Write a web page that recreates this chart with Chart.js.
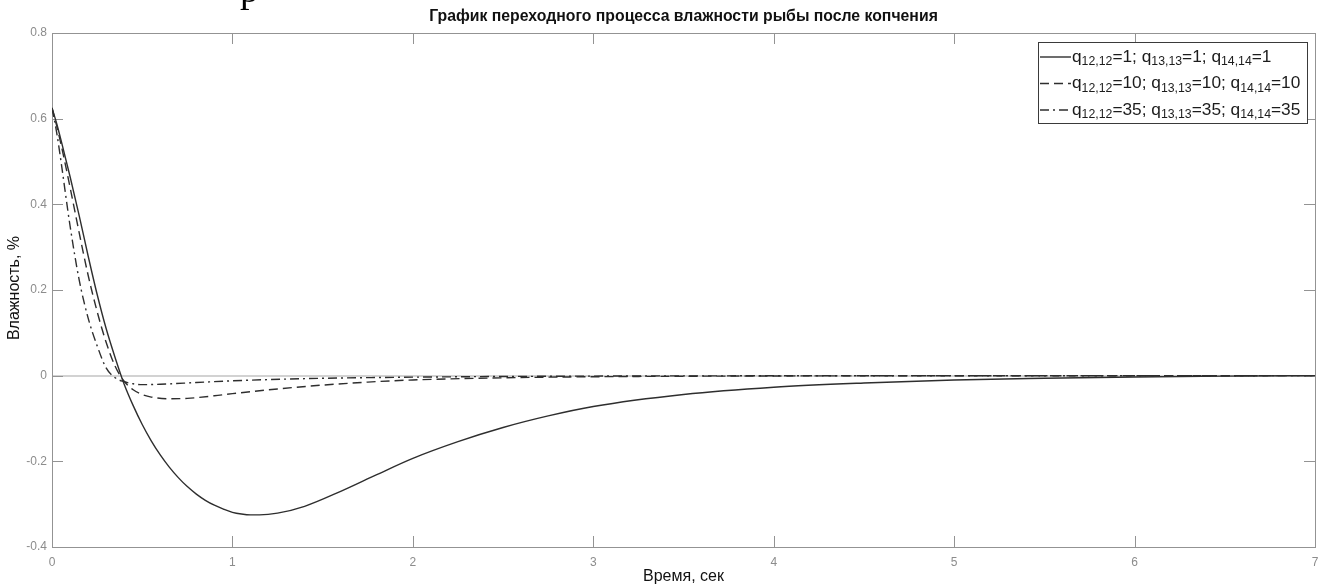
<!DOCTYPE html>
<html>
<head>
<meta charset="utf-8">
<script src="https://cdn.jsdelivr.net/npm/chart.js@4/dist/chart.umd.min.js"></script>
<style>
  html, body { margin: 0; padding: 0; background: #fff; overflow: hidden; }
  #wrap { width: 1330px; height: 586px; }
</style>
</head>
<body>
<div id="wrap"><canvas id="moistureChart" width="1330" height="586"></canvas></div>
<script>
// time, s
const timeQ1 = [0, 0.025, 0.05, 0.1, 0.15, 0.2, 0.25, 0.3, 0.35, 0.4, 0.45, 0.5, 0.55, 0.6, 0.65, 0.7, 0.75, 0.8, 0.85, 0.9, 0.95, 1.0, 1.05, 1.1, 1.15, 1.25, 1.4, 1.6, 1.8, 2.0, 2.25, 2.5, 2.75, 3.0, 3.5, 4.0, 4.5, 5.0, 5.5, 6.0, 6.5, 7.0];
const moistureQ1 = [0.625, 0.59, 0.55, 0.465, 0.375, 0.28, 0.19, 0.11, 0.042, -0.02, -0.07, -0.114, -0.152, -0.185, -0.2135, -0.238, -0.259, -0.2765, -0.291, -0.3025, -0.3115, -0.319, -0.323, -0.325, -0.325, -0.321, -0.305, -0.27, -0.231, -0.193, -0.154, -0.121, -0.094, -0.072, -0.044, -0.027, -0.017, -0.01, -0.006, -0.003, -0.001, 0];

const timeQ10 = [0, 0.025, 0.05, 0.1, 0.15, 0.2, 0.25, 0.3, 0.35, 0.4, 0.45, 0.5, 0.55, 0.65, 0.75, 0.9, 1.0, 1.25, 1.5, 1.75, 2.0, 2.5, 3.0, 4.0, 5.0, 7.0];
const moistureQ10 = [0.625, 0.585, 0.54, 0.44, 0.335, 0.235, 0.15, 0.078, 0.022, -0.013, -0.033, -0.044, -0.05, -0.054, -0.053, -0.047, -0.042, -0.031, -0.022, -0.015, -0.01, -0.005, -0.0025, -0.0007, -0.0002, 0];

const timeQ35 = [0, 0.025, 0.05, 0.1, 0.15, 0.2, 0.25, 0.3, 0.35, 0.4, 0.45, 0.5, 0.6, 0.8, 1.0, 1.4, 2.0, 3.0, 4.0, 7.0];
const moistureQ35 = [0.625, 0.57, 0.5, 0.35, 0.225, 0.135, 0.07, 0.018, -0.005, -0.014, -0.019, -0.021, -0.02, -0.016, -0.012, -0.007, -0.0035, -0.001, -0.0003, 0];

const xTickValues = [0, 1, 2, 3, 4, 5, 6, 7];
const xTickLabels = ['0', '1', '2', '3', '4', '5', '6', '7'];
const yTickValues = [-0.4, -0.2, 0, 0.2, 0.4, 0.6, 0.8];
const yTickLabels = ['-0.4', '-0.2', '0', '0.2', '0.4', '0.6', '0.8'];

// legend rows: [text, isSubscript]
const legendRows = [
    [['q', 0], ['12,12', 1], ['=1; q', 0], ['13,13', 1], ['=1; q', 0], ['14,14', 1], ['=1', 0]],
    [['q', 0], ['12,12', 1], ['=10; q', 0], ['13,13', 1], ['=10; q', 0], ['14,14', 1], ['=10', 0]],
    [['q', 0], ['12,12', 1], ['=35; q', 0], ['13,13', 1], ['=35; q', 0], ['14,14', 1], ['=35', 0]]
];
const lineDashes = [[], [9, 5], [9, 4, 2, 4]];

const SANS = '"Liberation Sans", Arial, sans-serif';
const FRAME = '#939393';
const INK = '#2e2e2e';

function toPoints(xs, ys) {
    return xs.map((x, i) => ({ x: x, y: ys[i] }));
}

function drawLegend(ctx) {
    const left = 1038, top = 42, w = 269, h = 81;
    const rowY = [57, 83.5, 110];
    ctx.save();
    ctx.fillStyle = '#fff';
    ctx.fillRect(left, top, w, h);
    ctx.strokeStyle = '#3a3a3a';
    ctx.lineWidth = 1;
    ctx.strokeRect(left + 0.5, top + 0.5, w, h);

    rowY.forEach((y, r) => {
        ctx.beginPath();
        ctx.setLineDash(lineDashes[r]);
        ctx.strokeStyle = INK;
        ctx.lineWidth = 1.4;
        ctx.moveTo(left + 2, y);
        ctx.lineTo(left + 33, y);
        ctx.stroke();
        ctx.setLineDash([]);

        let x = left + 34;
        ctx.fillStyle = '#1c1c1c';
        ctx.textBaseline = 'middle';
        ctx.textAlign = 'left';
        legendRows[r].forEach(([txt, sub]) => {
            ctx.font = sub ? '12.3px ' + SANS : '17.3px ' + SANS;
            ctx.fillText(txt, x, sub ? y + 5 : y);
            x += ctx.measureText(txt).width;
        });
    });
    ctx.restore();
}

const decor = {
    id: 'decor',
    beforeDatasetsDraw(chart) {
        const { ctx, chartArea: a, scales } = chart;
        ctx.save();
        ctx.strokeStyle = FRAME;
        ctx.lineWidth = 1;
        const tl = 11;
        ctx.beginPath();
        scales.x.ticks.forEach(t => {
            const px = Math.round(scales.x.getPixelForValue(t.value)) + 0.5;
            ctx.moveTo(px, a.bottom); ctx.lineTo(px, a.bottom - tl);
            ctx.moveTo(px, a.top); ctx.lineTo(px, a.top + tl);
        });
        scales.y.ticks.forEach(t => {
            const py = Math.round(scales.y.getPixelForValue(t.value)) + 0.5;
            ctx.moveTo(a.left, py); ctx.lineTo(a.left + tl, py);
            ctx.moveTo(a.right, py); ctx.lineTo(a.right - tl, py);
        });
        ctx.stroke();
        ctx.strokeRect(Math.round(a.left) + 0.5, Math.round(a.top) + 0.5,
            Math.round(a.right - a.left), Math.round(a.bottom - a.top));
        ctx.restore();
    },
    afterDraw(chart) {
        const { ctx, chartArea: a } = chart;
        drawLegend(ctx);

        ctx.save();
        ctx.fillStyle = '#111';
        ctx.textAlign = 'center';
        ctx.textBaseline = 'middle';
        ctx.font = 'bold 15.8px ' + SANS;
        ctx.fillText('График переходного процесса влажности рыбы после копчения', (a.left + a.right) / 2, 17);

        ctx.font = '16px ' + SANS;
        ctx.fillText('Время, сек', (a.left + a.right) / 2, 577);

        ctx.translate(15, (a.top + a.bottom) / 2 - 2);
        ctx.rotate(-Math.PI / 2);
        ctx.fillText('Влажность, %', 0, 0);
        ctx.restore();

        // tail of a text line above the figure
        ctx.save();
        ctx.fillStyle = '#000';
        ctx.font = '38px "Liberation Serif", serif';
        ctx.textBaseline = 'alphabetic';
        ctx.textAlign = 'left';
        ctx.fillText('р', 240, 2);
        ctx.restore();
    }
};

const series = [
    { data: toPoints(timeQ1, moistureQ1), dash: lineDashes[0] },
    { data: toPoints(timeQ10, moistureQ10), dash: lineDashes[1] },
    { data: toPoints(timeQ35, moistureQ35), dash: lineDashes[2] }
];

new Chart(document.getElementById('moistureChart'), {
    type: 'line',
    data: {
        datasets: series.map(s => ({
            data: s.data,
            borderColor: INK,
            borderWidth: 1.4,
            borderDash: s.dash,
            pointRadius: 0,
            fill: false,
            cubicInterpolationMode: 'monotone'
        }))
    },
    options: {
        responsive: false,
        animation: false,
        devicePixelRatio: 1,
        layout: { padding: { top: 33, right: 15, left: 0, bottom: 0 } },
        plugins: { legend: { display: false }, title: { display: false }, tooltip: { enabled: false } },
        scales: {
            x: {
                type: 'linear',
                min: 0, max: 7,
                afterBuildTicks: s => { s.ticks = xTickValues.map(v => ({ value: v })); },
                afterFit: s => { s.height = 39; },
                grid: { display: false, drawTicks: false },
                border: { display: false },
                ticks: {
                    padding: 8,
                    color: '#8c8c8c',
                    font: { family: SANS, size: 12 },
                    maxRotation: 0,
                    callback: (v, i) => xTickLabels[i]
                }
            },
            y: {
                type: 'linear',
                min: -0.4, max: 0.8,
                afterBuildTicks: s => { s.ticks = yTickValues.map(v => ({ value: v })); },
                afterFit: s => { s.width = 52; },
                grid: {
                    drawTicks: false,
                    lineWidth: 2,
                    color: c => (c.tick && Math.abs(c.tick.value) < 1e-9) ? '#d2d2d2' : 'rgba(0,0,0,0)'
                },
                border: { display: false },
                ticks: {
                    padding: 5,
                    color: '#8c8c8c',
                    font: { family: SANS, size: 12 },
                    callback: (v, i) => yTickLabels[i]
                }
            }
        }
    },
    plugins: [decor]
});
</script>
</body>
</html>
